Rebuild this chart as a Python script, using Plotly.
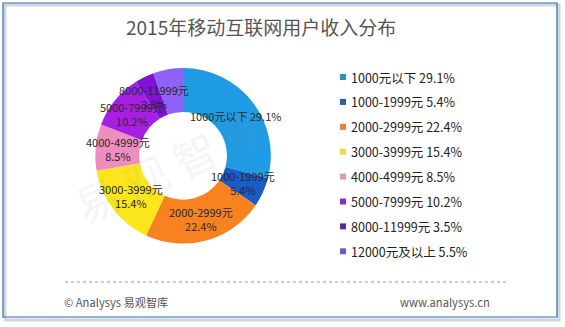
import math
import plotly.graph_objects as go

categories = ["1000元以下", "1000-1999元", "2000-2999元", "3000-3999元",
              "4000-4999元", "5000-7999元", "8000-11999元", "12000元及以上"]
values = [29.1, 5.4, 22.4, 15.4, 8.5, 10.2, 3.5, 5.5]
slice_colors = ["#1E9BE3", "#1A5CC6", "#F7821F", "#FBE51B",
                "#EE8DBE", "#A71FE3", "#7E12D6", "#8E62F7"]
legend_colors = ["#2596BE", "#2F5FA0", "#E8833A", "#E6E040",
                 "#D89AB8", "#8A2CC0", "#5B2C98", "#6B5DC0"]
title = "2015年移动互联网用户收入分布"
footer_left = "© Analysys 易观智库"
footer_right = "www.analysys.cn"

FONT = "Noto Sans CJK SC"
W, H = 565, 327
DOM_X = [0.16, 0.488]
DOM_Y = [0.255, 0.792]
HOLE = 0.5

fig = go.Figure()
fig.add_trace(go.Pie(
    labels=categories, values=values, sort=False, direction="clockwise",
    hole=HOLE, marker=dict(colors=slice_colors, line=dict(width=0)),
    textinfo="none",
    domain=dict(x=DOM_X, y=DOM_Y),
    showlegend=False, hoverinfo="label+percent",
))

shapes = []
annotations = []

# slice labels placed at the middle of each slice (drawn on top, like the reference)
cx = (DOM_X[0] + DOM_X[1]) / 2 * W
cy = (DOM_Y[0] + DOM_Y[1]) / 2 * H
R = min((DOM_X[1] - DOM_X[0]) * W, (DOM_Y[1] - DOM_Y[0]) * H) / 2
r_text = R * (1 + HOLE) / 2
total = sum(values)
cum = 0.0
for i, (c, v) in enumerate(zip(categories, values)):
    mid = (cum + v / 2) / total * 2 * math.pi
    cum += v
    if i == len(categories) - 1:
        continue
    txt = f"{c} {v}%" if i == 0 else f"{c}<br>{v}%"
    x = cx + r_text * math.sin(mid)
    y = cy + r_text * math.cos(mid)
    annotations.append(dict(xref="paper", yref="paper", x=x / W, y=y / H,
                            xanchor="center", yanchor="middle", showarrow=False,
                            text=txt, align="center",
                            font=dict(family=FONT, size=11, color="#2a2a2a")))

# frame
shapes.append(dict(type="rect", xref="paper", yref="paper", x0=5/W, x1=559/W,
                   y0=1-320/H, y1=1-5/H, line=dict(color="#cfd6de", width=3)))
shapes.append(dict(type="rect", xref="paper", yref="paper", x0=3/W, x1=557/W,
                   y0=1-317/H, y1=1-3/H, line=dict(color="#2C6CA8", width=1.2),
                   fillcolor="rgba(0,0,0,0)"))
# custom legend
y0 = 77
step = 24.9
for i, (c, v) in enumerate(zip(categories, values)):
    y = y0 + i * step
    shapes.append(dict(type="rect", xref="paper", yref="paper",
                       x0=340/W, x1=346/W, y0=1-(y+3)/H, y1=1-(y-3)/H,
                       fillcolor=legend_colors[i], line=dict(width=0)))
    annotations.append(dict(xref="paper", yref="paper", x=349/W, y=1-y/H,
                            xanchor="left", yanchor="middle", showarrow=False,
                            text=f"{c} {v}%",
                            font=dict(family=FONT, size=12.5, color="#222222")))
# dotted line
shapes.append(dict(type="line", xref="paper", yref="paper", x0=65/W, x1=507/W,
                   y0=1-282/H, y1=1-282/H, line=dict(color="#9a9a9a", width=1, dash="dot")))

annotations.append(dict(xref="paper", yref="paper", x=261/W, y=1-26/H,
                        xanchor="center", yanchor="middle", showarrow=False, text=title,
                        font=dict(family=FONT, size=19, color="#555555")))
annotations.append(dict(xref="paper", yref="paper", x=62/W, y=1-302/H,
                        xanchor="left", yanchor="middle", showarrow=False, text=footer_left,
                        font=dict(family=FONT, size=11.2, color="#555555")))
annotations.append(dict(xref="paper", yref="paper", x=492/W, y=1-302/H,
                        xanchor="right", yanchor="middle", showarrow=False, text=footer_right,
                        font=dict(family=FONT, size=11.2, color="#555555")))
# faint watermark
annotations.insert(0, dict(xref="paper", yref="paper", x=170/W, y=1-165/H,
                           xanchor="center", yanchor="middle", showarrow=False,
                           text="易 观 智 库", textangle=-25,
                           font=dict(family=FONT, size=44, color="rgba(150,150,150,0.10)")))

fig.update_layout(
    width=W, height=H, margin=dict(l=0, r=0, t=0, b=0),
    paper_bgcolor="white", plot_bgcolor="white",
    shapes=shapes, annotations=annotations,
)
fig.write_html("out.html")
